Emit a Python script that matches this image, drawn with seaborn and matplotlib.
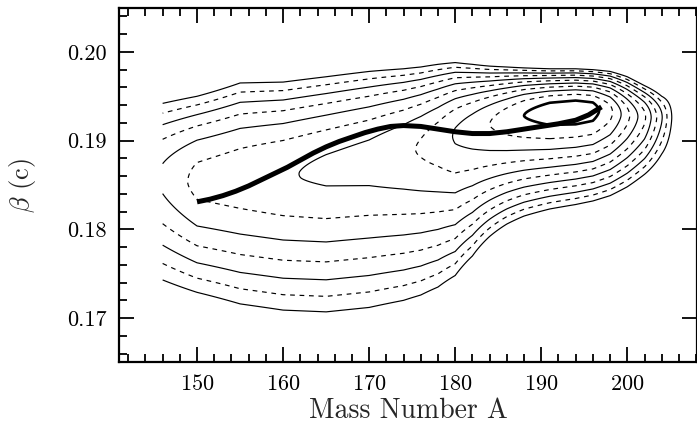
import numpy as np
import pandas as pd
import matplotlib
matplotlib.use("Agg")
import matplotlib.pyplot as plt
import seaborn as sns
from matplotlib.ticker import MultipleLocator, FormatStrFormatter

# ---- data ----
# ridge (thick) line
line_A = [150, 151.5, 153, 154.5, 156, 157.5, 159, 160.5, 162, 163.5, 165, 166.5, 168, 169.5,
          171, 172.5, 174, 176, 178, 180, 182, 184, 186, 188, 190, 192, 194, 195.5, 196.5, 197]
line_beta = [0.1831, 0.1834, 0.1838, 0.1843, 0.1849, 0.1856, 0.1863, 0.1870, 0.1878, 0.1886,
             0.1893, 0.1899, 0.1904, 0.1909, 0.1913, 0.1916, 0.1917, 0.1916, 0.1913, 0.1910,
             0.1908, 0.1908, 0.1910, 0.1913, 0.1916, 0.1919, 0.1923, 0.1929, 0.1935, 0.1938]

# contour field description per mass column
col_A      = [146, 150, 155, 160, 165, 170, 174, 176, 178, 180, 182, 184, 186, 188, 191, 194, 196, 198, 200, 202, 204, 206]
ridge_beta = [0.1855, 0.1852, 0.1855, 0.1858, 0.1865, 0.1875, 0.1885, 0.1891, 0.1898, 0.1905, 0.1912, 0.1918, 0.1923, 0.1928, 0.1932, 0.1934, 0.1934, 0.1932, 0.1928, 0.1926, 0.1926, 0.1926]
peak_level = [5.2, 6.3, 6.6, 6.9, 7.2, 7.4, 7.8, 8.1, 8.5, 9.1, 9.5, 10.0, 10.5, 11.0, 11.5, 11.6, 11.4, 10.3, 8.3, 6.2, 3.1, -0.5]
outer_top  = [0.1942, 0.1950, 0.1965, 0.1966, 0.1972, 0.1978, 0.1981, 0.1983, 0.1986, 0.1988, 0.1986, 0.1984, 0.1983, 0.1982, 0.1981, 0.1981, 0.1980, 0.1978, 0.1972, 0.1962, 0.1950, 0.1960]
outer_bot  = [0.1743, 0.1729, 0.1716, 0.1709, 0.1707, 0.1712, 0.1720, 0.1726, 0.1735, 0.1748, 0.1770, 0.1792, 0.1806, 0.1815, 0.1823, 0.1828, 0.1832, 0.1838, 0.1848, 0.1862, 0.1885, 0.1890]
levels = [1, 2, 3, 4, 5, 6, 7, 8, 9, 10, 11]

# ---- build field ----
xa = np.array(col_A)
yc = np.array(ridge_beta)
P = np.array(peak_level)
span = np.maximum(P - 1.0, 0.5)
su = (np.array(outer_top) - yc) / np.sqrt(span)
sd = (yc - np.array(outer_bot)) / span ** (2.0 / 3.0)
yy = np.linspace(0.1655, 0.2045, 800)
D = yy[:, None] - yc[None, :]
Z = np.where(D >= 0,
             P[None, :] - (D / su[None, :]) ** 2,
             P[None, :] - (np.abs(D) / sd[None, :]) ** 1.5)

# ---- style ----
sns.set_theme(style="ticks")
plt.rcParams["font.family"] = ["cmr10", "DejaVu Serif"]
plt.rcParams["mathtext.fontset"] = "cm"
plt.rcParams["axes.formatter.use_mathtext"] = True
plt.rcParams["lines.dashed_pattern"] = [4.0, 4.0]

fig = plt.figure(figsize=(6.97, 4.28), dpi=100)
ax = fig.add_axes([119 / 697, 1 - 362 / 428, (697 - 119) / 697, (362 - 8) / 428])

styles = ["solid" if l % 2 == 1 else "dashed" for l in levels]
widths = [0.85] * (len(levels) - 1) + [1.9]
ax.contour(xa, yy, Z, levels=levels, colors="black", linestyles=styles, linewidths=widths)

df = pd.DataFrame({"A": line_A, "beta": line_beta})
sns.lineplot(data=df, x="A", y="beta", ax=ax, color="black", linewidth=3.6,
             solid_capstyle="butt", sort=False)

ax.set_xlim(140.93, 208.1)
ax.set_ylim(0.16505, 0.20495)
ax.xaxis.set_major_locator(MultipleLocator(10))
ax.xaxis.set_minor_locator(MultipleLocator(2))
ax.yaxis.set_major_locator(MultipleLocator(0.01))
ax.yaxis.set_minor_locator(MultipleLocator(0.002))
ax.yaxis.set_major_formatter(FormatStrFormatter("%.2f"))

ax.tick_params(which="both", direction="in", top=True, right=True, colors="black",
               labelsize=16, width=1.3)
ax.tick_params(which="major", length=11, pad=9)
ax.tick_params(which="minor", length=5.5, right=False)
ax.tick_params(axis="y", which="major", right=True)
for s in ax.spines.values():
    s.set_linewidth(1.6)
    s.set_color("black")

ax.set_xlabel("Mass Number A", fontsize=20, labelpad=2)
ax.set_ylabel(r"$\beta$ (c)", fontsize=19, labelpad=21)
ax.set_facecolor("white")
fig.patch.set_facecolor("white")

fig.savefig("out.png", dpi=100)
